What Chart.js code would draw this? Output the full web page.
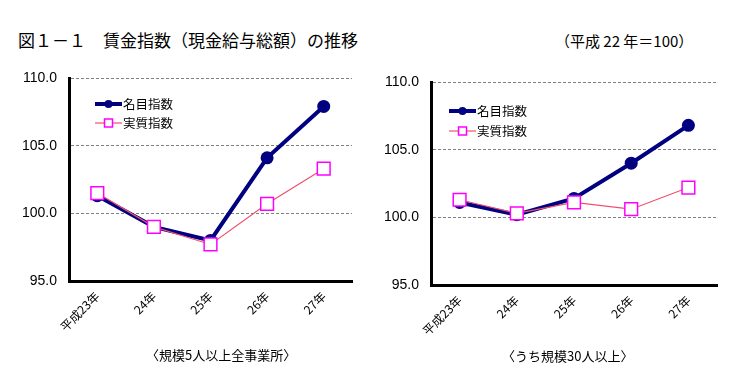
<!DOCTYPE html>
<html>
<head>
<meta charset="utf-8">
<script src="https://cdn.jsdelivr.net/npm/chart.js@4/dist/chart.umd.min.js"></script>
<style>
  html, body { margin:0; padding:0; background:#fff; }
  body { width:754px; height:381px; position:relative; overflow:hidden; font-family:"Noto Sans CJK JP", sans-serif; }
  .box { position:absolute; top:0; height:381px; }
  .txt { position:absolute; white-space:nowrap; color:#000; font-family:"Noto Sans CJK JP", sans-serif; }
</style>
</head>
<body>
<div class="txt" style="left:18px; top:29px; font-size:17px; line-height:22px;">図１－１　賃金指数（現金給与総額）の推移</div>
<div class="txt" style="left:555px; top:31px; font-size:15px; line-height:20px;">（平成 22 年＝100）</div>
<div class="box" style="left:0; width:377px;"><canvas id="c1" width="377" height="381"></canvas></div>
<div class="box" style="left:377px; width:377px;"><canvas id="c2" width="377" height="381"></canvas></div>
<div class="txt" style="left:146px; top:346px; font-size:13px; line-height:18px;">〈規模5人以上全事業所〉</div>
<div class="txt" style="left:502px; top:347px; font-size:13px; line-height:18px;">〈うち規模30人以上〉</div>
<script>
const categories = ["平成23年", "24年", "25年", "26年", "27年"];
const seriesNames = ["名目指数", "実質指数"];
const yTicks = [95, 100, 105, 110];
// 規模5人以上全事業所
const allNominal = [101.3, 99.0, 98.0, 104.1, 107.9];
const allReal    = [101.5, 99.0, 97.7, 100.7, 103.3];
// うち規模30人以上
const big30Nominal = [101.1, 100.2, 101.4, 104.0, 106.8];
const big30Real    = [101.3, 100.3, 101.1, 100.6, 102.2];

const NAVY = '#000080';
const PINK_LINE = '#f0506e';
const MAGENTA = '#ff00ff';

const insideLegend = {
  id: 'insideLegend',
  afterDraw(chart, args, opts) {
    const ctx = chart.ctx;
    const ds = chart.data.datasets;
    const order = [1, 0];
    order.forEach((di, row) => {
      const d = ds[di];
      const y = opts.y + row * opts.gap;
      const x0 = opts.x, x1 = opts.x + 27;
      ctx.save();
      ctx.strokeStyle = d.borderColor;
      ctx.lineWidth = d.borderWidth;
      ctx.beginPath(); ctx.moveTo(x0, y); ctx.lineTo(x1, y); ctx.stroke();
      const mx = (x0 + x1) / 2;
      if (d.pointStyle === 'circle') {
        ctx.fillStyle = d.pointBackgroundColor;
        ctx.beginPath(); ctx.arc(mx, y, 4, 0, Math.PI * 2); ctx.fill();
      } else {
        ctx.fillStyle = '#fff';
        ctx.strokeStyle = d.pointBorderColor;
        ctx.lineWidth = 1.5;
        ctx.fillRect(mx - 4, y - 4, 8, 8);
        ctx.strokeRect(mx - 4, y - 4, 8, 8);
      }
      ctx.fillStyle = '#000';
      ctx.font = '12.5px "Noto Sans CJK JP"';
      ctx.textBaseline = 'middle';
      ctx.textAlign = 'left';
      ctx.fillText(d.label, x1 + 1, y);
      ctx.restore();
    });
  }
};

function makeChart(id, nominal, real, cfg) {
  return new Chart(document.getElementById(id), {
    type: 'line',
    data: {
      labels: categories,
      datasets: [
        {
          label: seriesNames[1], data: real, order: 0,
          borderColor: PINK_LINE, borderWidth: 1.2,
          pointStyle: 'rect', pointRadius: 9, pointHoverRadius: 9,
          pointBackgroundColor: '#fff', pointBorderColor: MAGENTA, pointBorderWidth: 1.5,
          tension: 0
        },
        {
          label: seriesNames[0], data: nominal, order: 1,
          borderColor: NAVY, borderWidth: 4,
          pointStyle: 'circle', pointRadius: 6.5, pointHoverRadius: 6.5,
          pointBackgroundColor: NAVY, pointBorderColor: NAVY, pointBorderWidth: 0,
          tension: 0
        }
      ]
    },
    options: {
      responsive: false,
      animation: false,
      events: [],
      layout: { padding: { left: 0, right: cfg.padRight, top: cfg.padTop, bottom: 0 } },
      plugins: {
        legend: { display: false },
        tooltip: { enabled: false },
        insideLegend: cfg.legend
      },
      scales: {
        x: {
          offset: true,
          grid: { display: false, drawTicks: false },
          border: { display: true, color: '#000', width: 3 },
          ticks: {
            autoSkip: false, minRotation: 45, maxRotation: 45, padding: 8,
            color: '#000', font: { family: '"Noto Sans CJK JP"', size: 12 }
          },
          afterFit(s) { s.height = cfg.xHeight; }
        },
        y: {
          min: 95, max: 110,
          afterBuildTicks(s) { s.ticks = yTicks.map(v => ({ value: v })); },
          grid: { color: '#808080', lineWidth: 1, drawTicks: false },
          border: { display: true, color: '#000', width: 3, dash: [3, 2] },
          ticks: {
            padding: 12, color: '#000',
            font: { family: '"Liberation Sans"', size: 14 },
            callback: v => Number(v).toFixed(1)
          },
          afterFit(s) { s.width = cfg.yWidth; }
        }
      }
    },
    plugins: [insideLegend]
  });
}

makeChart('c1', allNominal, allReal, {
  padRight: 25, padTop: 78, xHeight: 100, yWidth: 69,
  legend: { x: 95, y: 104, gap: 19 }
});
makeChart('c2', big30Nominal, big30Real, {
  padRight: 37, padTop: 82, xHeight: 96, yWidth: 54,
  legend: { x: 72, y: 111, gap: 20 }
});
</script>
</body>
</html>
